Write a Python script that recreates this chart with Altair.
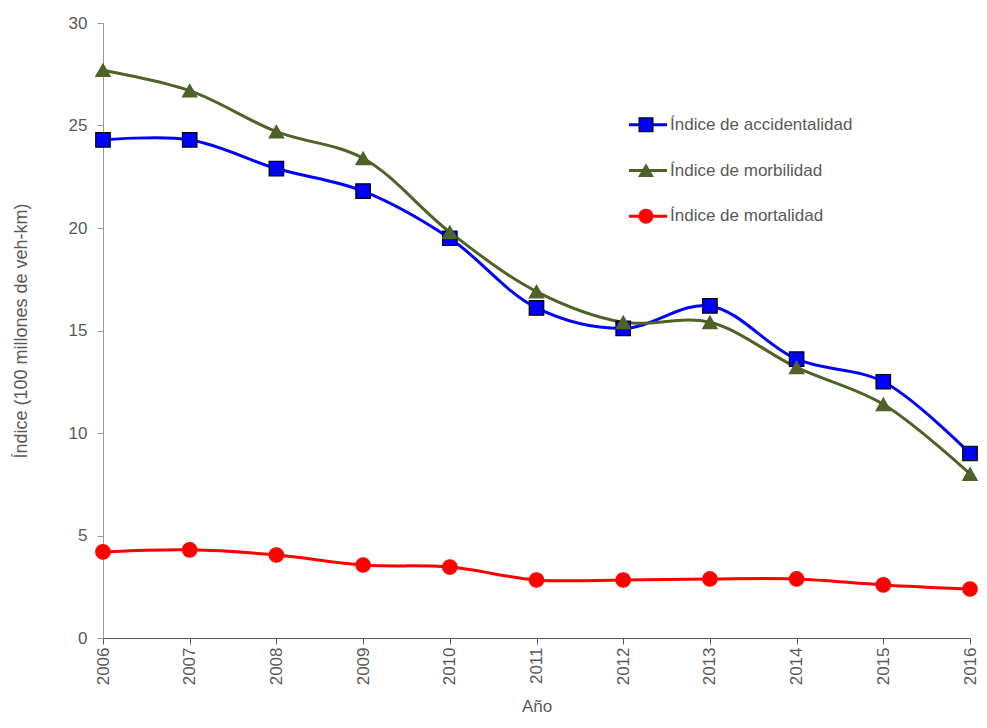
import altair as alt
import pandas as pd

years = [2006, 2007, 2008, 2009, 2010, 2011, 2012, 2013, 2014, 2015, 2016]
accidentalidad = [24.3, 24.3, 22.9, 21.8, 19.5, 16.1, 15.1, 16.2, 13.6, 12.5, 9.0]
morbilidad = [27.7, 26.7, 24.7, 23.4, 19.8, 16.9, 15.4, 15.4, 13.2, 11.4, 8.0]
mortalidad = [4.2, 4.3, 4.05, 3.56, 3.46, 2.83, 2.83, 2.88, 2.88, 2.59, 2.39]

names = ["Índice de accidentalidad", "Índice de morbilidad", "Índice de mortalidad"]
colors = ["#0000FF", "#4F6228", "#FF0000"]
shapes = ["square", "triangle-up", "circle"]
strokes = ["#000000", "#4F6228", "#FF0000"]

rows = []
for name, vals in zip(names, [accidentalidad, morbilidad, mortalidad]):
    for y, v in zip(years, vals):
        rows.append({"anio": y, "valor": v, "serie": name})
df = pd.DataFrame(rows)
leg = pd.DataFrame({"serie": names})

FONT = "Liberation Sans, Arial"
GRAY = "#595959"
W, H = 867, 615

color = alt.Color("serie:N", scale=alt.Scale(domain=names, range=colors), legend=None)
shape = alt.Shape("serie:N", scale=alt.Scale(domain=names, range=shapes), legend=None)
stroke = alt.Stroke("serie:N", scale=alt.Scale(domain=names, range=strokes), legend=None)

x = alt.X("anio:Q", title="Año",
          scale=alt.Scale(domain=[2006, 2016], nice=False, zero=False),
          axis=alt.Axis(values=years, format="d", labelAngle=-90, labelAlign="right",
                        labelBaseline="middle", grid=False, domainColor="#595959",
                        tickColor="#595959", tickSize=6, labelPadding=3,
                        titlePadding=14, labelFontSize=17, titleFontSize=17))
y = alt.Y("valor:Q", title="Índice (100 millones de veh-km)",
          scale=alt.Scale(domain=[0, 30], nice=False),
          axis=alt.Axis(values=[0, 5, 10, 15, 20, 25, 30], grid=False,
                        domainColor="#9a9a9a", tickColor="#9a9a9a", tickSize=6,
                        labelPadding=10, titlePadding=38, labelFontSize=17,
                        titleFontSize=18))

lines = alt.Chart(df).mark_line(interpolate="catmull-rom", strokeWidth=3).encode(
    x=x, y=y, color=color)
points = alt.Chart(df).mark_point(filled=True, size=210, opacity=1, strokeWidth=1.2).encode(
    x=x, y=y, color=color, shape=shape, stroke=stroke)
data_layer = alt.layer(lines, points)

ly = alt.Y("serie:N", scale=alt.Scale(domain=names, range=[79, 216]), axis=None)
leg_rule = alt.Chart(leg).mark_rule(strokeWidth=3).encode(
    x=alt.value(526), x2=alt.value(564), y=ly, color=color)
leg_point = alt.Chart(leg).mark_point(filled=True, size=190, opacity=1, strokeWidth=1.2).encode(
    x=alt.value(543), y=ly, color=color, shape=shape, stroke=stroke)
leg_text = alt.Chart(leg).mark_text(align="left", baseline="middle", fontSize=17,
                                    font=FONT, color=GRAY).encode(
    x=alt.value(567), y=ly, text="serie:N")
legend = alt.layer(leg_rule, leg_point, leg_text)

chart = alt.layer(data_layer, legend).resolve_scale(y="independent").properties(
    width=W, height=H,
    autosize=alt.AutoSizeParams(type="none"),
    padding={"left": 95, "top": 15, "right": 9, "bottom": 82},
).configure_view(stroke=None).configure_axis(
    labelColor=GRAY, titleColor=GRAY, labelFont=FONT, titleFont=FONT,
    titleFontWeight="normal",
)

chart.save("out.html", embed_options={"renderer": "svg", "actions": False})
